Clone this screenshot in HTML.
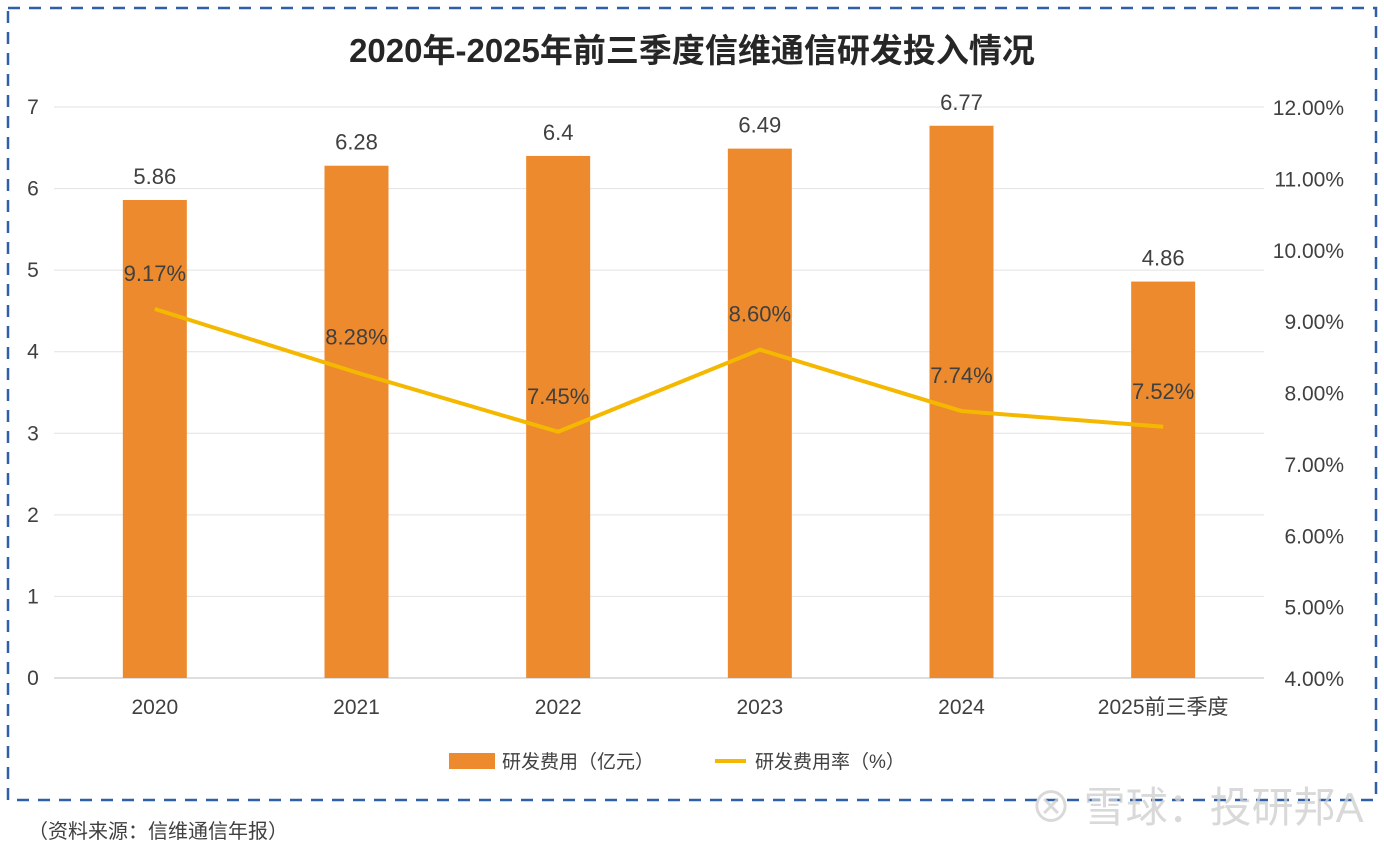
<!DOCTYPE html>
<html><head><meta charset="utf-8"><style>
body{margin:0;background:#fff;width:1384px;height:850px;overflow:hidden;font-family:"Liberation Sans","Noto Sans CJK SC",sans-serif}
</style></head><body>
<svg id="c" width="1384" height="850" xmlns="http://www.w3.org/2000/svg">
<rect x="8" y="8" width="1368" height="792" fill="none" stroke="#2F5FA8" stroke-width="2.5" stroke-dasharray="12,9"/>
<text x="692" y="62" text-anchor="middle" font-size="33" font-weight="bold" fill="#262626">2020年-2025年前三季度信维通信研发投入情况</text>
<g id="grid"></g><g id="bars"></g><g id="line"></g><g id="labels"></g>
<g>
<rect x="449" y="753" width="46" height="16" fill="#ED8A2E"/>
<text x="502" y="768" font-size="19" fill="#404040">研发费用（亿元）</text>
<line x1="715" y1="761" x2="746" y2="761" stroke="#F5B800" stroke-width="4"/>
<text x="755" y="768" font-size="19" fill="#404040">研发费用率（%）</text>
</g>
<text x="28" y="838" font-size="20" fill="#404040">（资料来源：信维通信年报）</text>
<text x="1030" y="822" font-size="42" fill="#d0d0d0" opacity="0.8">⊗ 雪球：投研邦A</text>
</svg>
<script>
const categories=["2020","2021","2022","2023","2024","2025前三季度"];
const spend=[5.86,6.28,6.4,6.49,6.77,4.86];
const spendLabels=["5.86","6.28","6.4","6.49","6.77","4.86"];
const rate=[9.17,8.28,7.45,8.60,7.74,7.52];
const leftTicks=[0,1,2,3,4,5,6,7];
const rightTicks=[4,5,6,7,8,9,10,11,12];
const NS="http://www.w3.org/2000/svg";
const x0=54,x1=1264,yB=678,yT=107;
const bw=(x1-x0)/categories.length;
const xc=i=>x0+bw*(i+0.5);
const yL=v=>yB-(v/7)*(yB-yT);
const yR=v=>yB-((v-4)/8)*(yB-yT);
function mk(t,a,p){const e=document.createElementNS(NS,t);for(const k in a)e.setAttribute(k,a[k]);p.appendChild(e);return e;}
const g=document.getElementById('grid'),b=document.getElementById('bars'),l=document.getElementById('line'),lb=document.getElementById('labels');
leftTicks.forEach(v=>{const ln=mk('line',{x1:x0,x2:x1,y1:yL(v),y2:yL(v),stroke:v===0?'#bfbfbf':'#e2e2e2','stroke-width':1},g);


const t=mk('text',{x:33,y:yL(v)+7,'text-anchor':'middle','font-size':21,fill:'#404040'},g);t.textContent=v;

});
rightTicks.forEach(v=>{const t=mk('text',{x:1344,y:yR(v)+8,'text-anchor':'end','font-size':21,fill:'#404040'},g);t.textContent=v.toFixed(2)+'%';

});
categories.forEach((c,i)=>{
const r=mk('rect',{x:xc(i)-32,y:yL(spend[i]),width:64,height:yB-yL(spend[i]),fill:'#ED8A2E'},b);


const t=mk('text',{x:xc(i),y:yL(spend[i])-16,'text-anchor':'middle','font-size':22,fill:'#404040'},lb);t.textContent=spendLabels[i];


const ct=mk('text',{x:xc(i),y:714,'text-anchor':'middle','font-size':21,fill:'#404040'},lb);ct.textContent=c;


const rt=mk('text',{x:xc(i),y:yR(rate[i])-28,'text-anchor':'middle','font-size':22,fill:'#404040'},lb);rt.textContent=rate[i].toFixed(2)+'%';


});
const p=mk('polyline',{points:rate.map((v,i)=>xc(i)+','+yR(v)).join(' '),fill:'none',stroke:'#F5B800','stroke-width':4,'stroke-linejoin':'round'},l);


</script>
</body></html>
